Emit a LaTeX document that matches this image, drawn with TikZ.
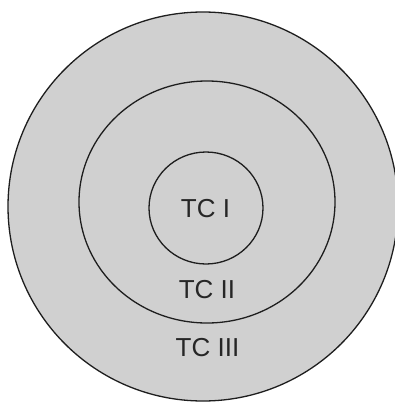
\documentclass[tikz,border=0pt]{standalone}
\usepackage{fontspec}
\setmainfont{Liberation Sans}
\definecolor{ringfill}{RGB}{208,208,208}
\definecolor{ringline}{RGB}{30,30,30}
\begin{document}
\begin{tikzpicture}[x=1pt,y=-1pt,
  ring/.style={draw=ringline,line width=1.3pt,fill=ringfill},
  lbl/.style={font=\fontsize{26}{30}\selectfont,text=black!85,inner sep=0pt}]
\useasboundingbox (0,0) rectangle (395,402);
\begin{scope}
\clip (0,0) rectangle (395,402);
\fill[white] (0,0) rectangle (395,402);
\draw[ring] (203,206.5) ellipse [x radius=195,y radius=194.5];
\draw[ring] (207,202) ellipse [x radius=128,y radius=121];
\draw[ring] (206,208) ellipse [x radius=57,y radius=56];
\end{scope}
\node[lbl] (t1) at (205.5,208.5) {TC I};
\node[lbl] (t2) at (207,290) {TC II};
\node[lbl] (t3) at (207.5,348) {TC III};
\end{tikzpicture}
\end{document}
